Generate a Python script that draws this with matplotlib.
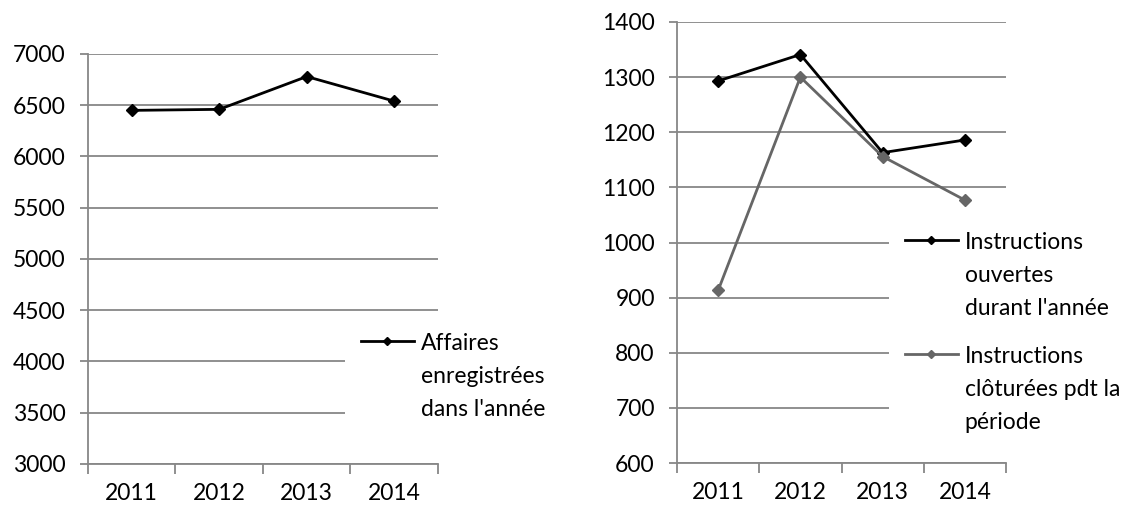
import matplotlib
matplotlib.use("Agg")
import matplotlib.pyplot as plt

plt.rcParams['font.family'] = ['Lato', 'DejaVu Sans']

# Data
years = ["2011", "2012", "2013", "2014"]
affaires = [6450, 6460, 6780, 6540]
instr_ouvertes = [1293, 1341, 1163, 1186]
instr_cloturees = [913, 1300, 1156, 1077]

label_affaires = "Affaires\nenregistrées\ndans l'année"
label_ouvertes = "Instructions\nouvertes\ndurant l'année"
label_cloturees = "Instructions\nclôturées pdt la\npériode"

GRID = '#878787'
FS = 16.5

fig = plt.figure(figsize=(11.33, 5.09), dpi=100)
ax1 = fig.add_axes([88 / 1133, 1 - 464 / 509, 350 / 1133, 410 / 509])
ax2 = fig.add_axes([677 / 1133, 1 - 463 / 509, 329 / 1133, 441 / 509])


def style_axis(ax, ymin, ymax, step):
    x = list(range(len(years)))
    ax.set_xlim(-0.5, len(years) - 0.5)
    ax.set_ylim(ymin, ymax)
    ax.set_yticks(range(ymin, ymax + 1, step))
    ax.set_xticks([i - 0.5 for i in range(len(years) + 1)])
    ax.set_xticklabels([])
    ax.set_xticks(x, minor=True)
    ax.set_xticklabels(years, minor=True)
    ax.tick_params(axis='x', which='major', direction='out', length=7,
                   width=1.3, color=GRID)
    ax.tick_params(axis='x', which='minor', length=0, pad=14, labelsize=FS)
    ax.tick_params(axis='y', direction='out', length=6, width=1.3,
                   color=GRID, pad=10, labelsize=FS)
    ax.yaxis.grid(True, color=GRID, linewidth=1.3)
    ax.set_axisbelow(True)
    for s in ['top', 'right']:
        ax.spines[s].set_visible(False)
    for s in ['left', 'bottom']:
        ax.spines[s].set_color(GRID)
        ax.spines[s].set_linewidth(1.3)
    return x


def make_legend(ax, anchor):
    leg = ax.legend(loc='upper left', bbox_to_anchor=anchor,
                    bbox_transform=fig.transFigure, borderaxespad=0,
                    borderpad=0.7, handlelength=2.3, handletextpad=0.3,
                    labelspacing=1.2, markerscale=0.6, fontsize=FS,
                    frameon=True, facecolor='white', edgecolor='none',
                    framealpha=1, fancybox=False)
    # handle sits level with the first line of each multi-line label
    for col in leg._legend_handle_box.get_children():
        for item in col.get_children():
            item.align = 'top'
    for t in leg.get_texts():
        t.set_linespacing(1.7)
    return leg


x = style_axis(ax1, 3000, 7000, 500)
ax1.plot(x, affaires, color='black', lw=2, marker='D', ms=6.5,
         label=label_affaires)
make_legend(ax1, (345 / 1133, 1 - 317 / 509))

x = style_axis(ax2, 600, 1400, 100)
ax2.plot(x, instr_ouvertes, color='black', lw=2, marker='D', ms=6.5,
         label=label_ouvertes)
ax2.plot(x, instr_cloturees, color='#666666', lw=2, marker='D', ms=6.5,
         label=label_cloturees)
make_legend(ax2, (889 / 1133, 1 - 216 / 509))

fig.savefig("out.png", dpi=100)
